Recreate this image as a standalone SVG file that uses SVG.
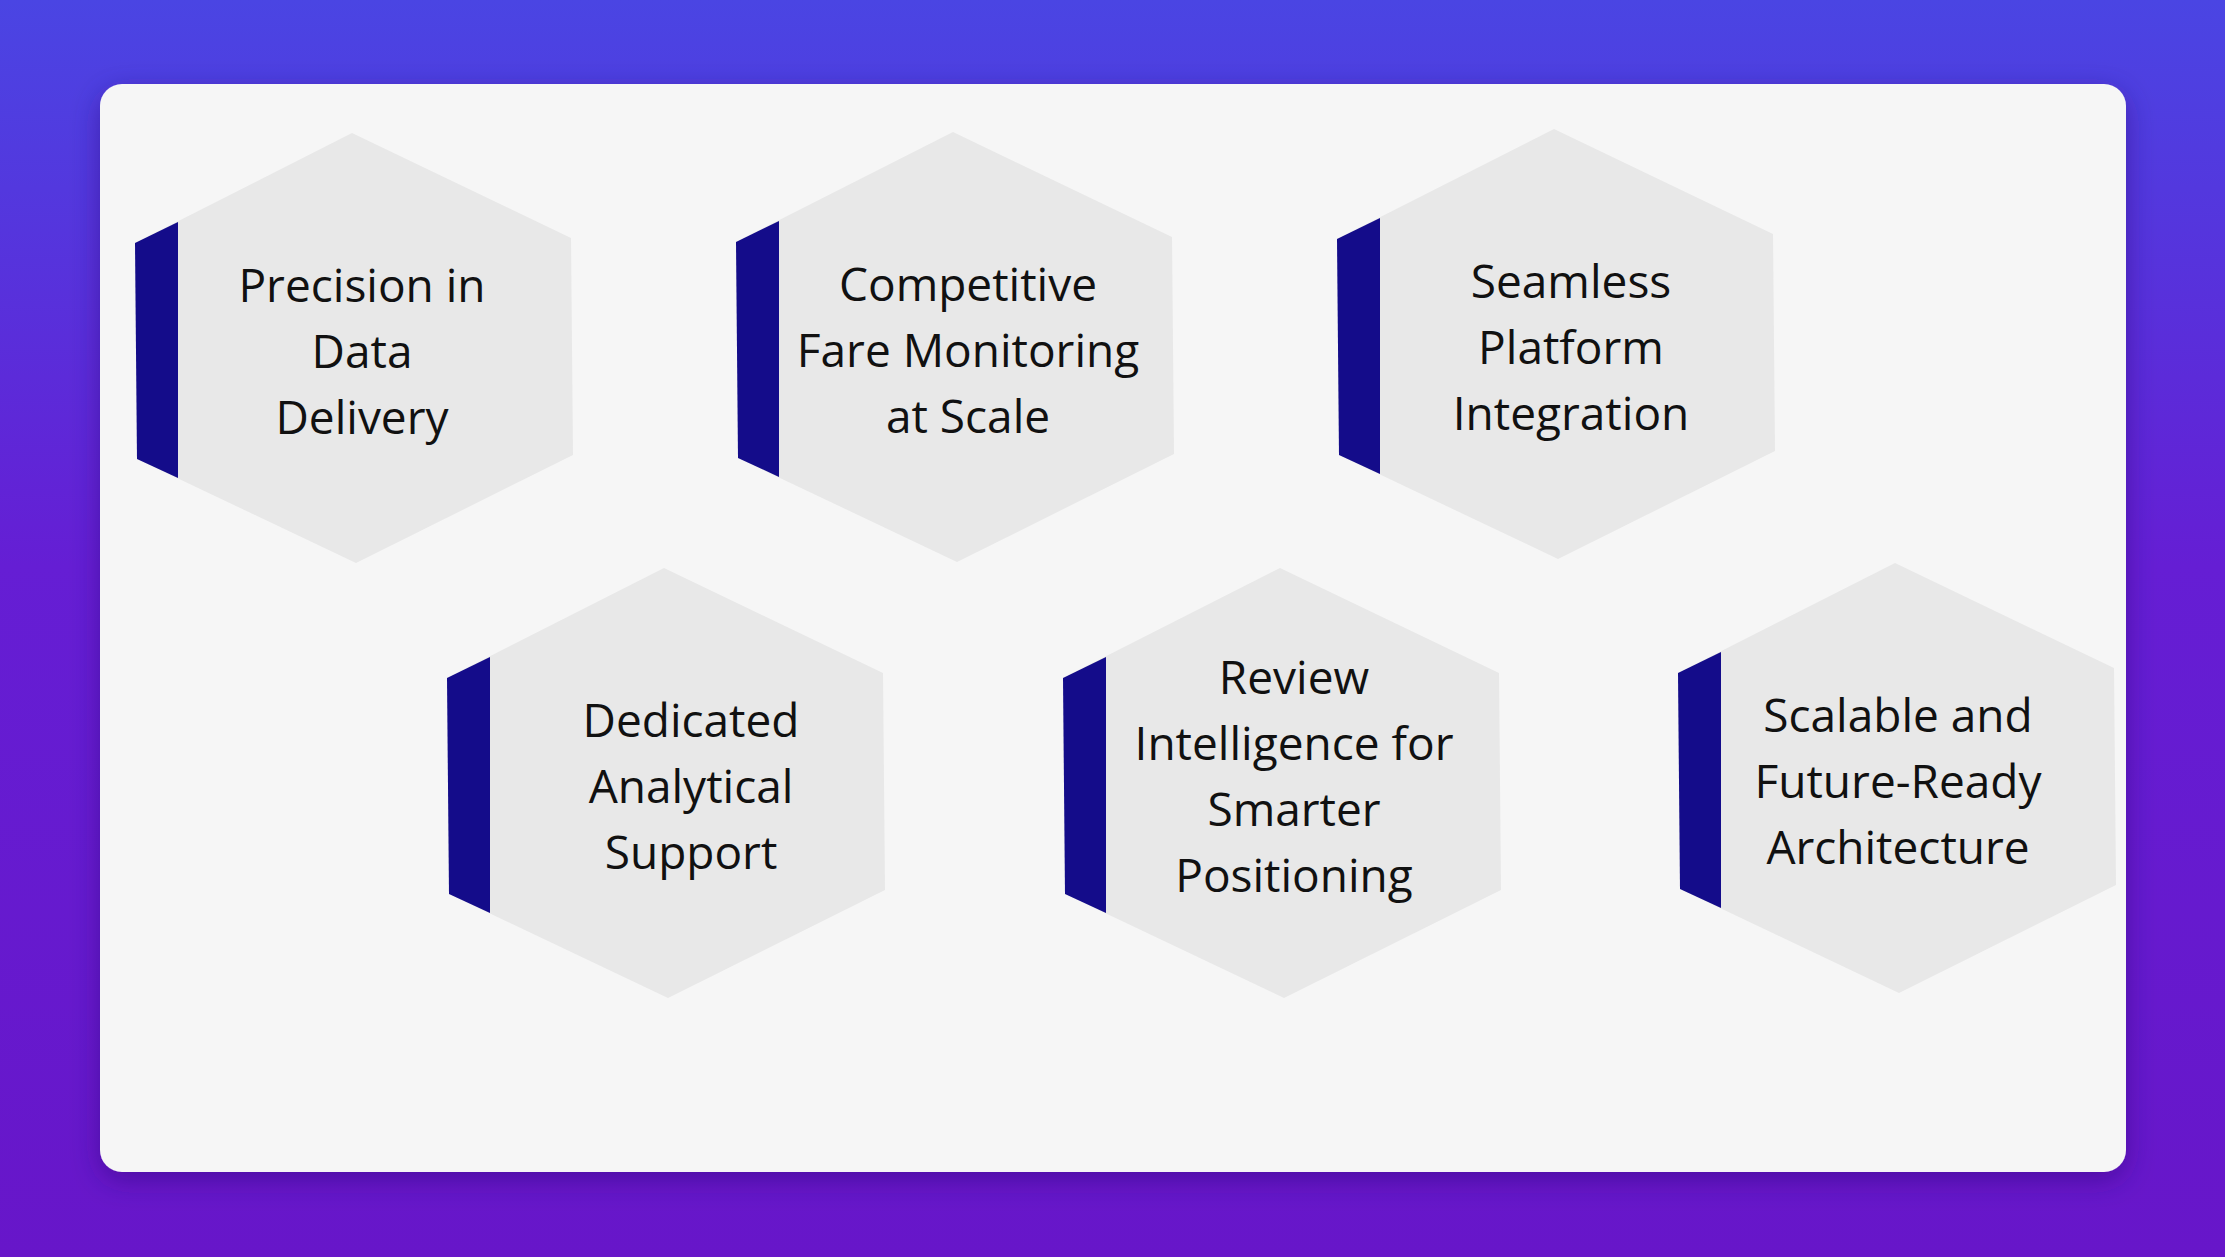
<svg xmlns="http://www.w3.org/2000/svg" width="2225" height="1257" viewBox="0 0 2225 1257">
<defs>
<linearGradient id="bg" x1="0" y1="0" x2="0" y2="1"><stop offset="0" stop-color="#4a45e3"/><stop offset="0.45" stop-color="#651ed4"/><stop offset="1" stop-color="#6716c9"/></linearGradient>
<filter id="sh" x="-5%" y="-5%" width="110%" height="115%"><feDropShadow dx="0" dy="8" stdDeviation="14" flood-color="#2a0a70" flood-opacity="0.45"/></filter>
<path id="hex" d="M0,0 L219,105 L221,322 L4,430 L-215,326 L-217,110 Z"/>
<path id="bar" d="M-217,110 L-174,89 L-174,345 L-215,326 Z"/>
</defs>
<style>
.hx{fill:#e8e8e8}.br{fill:#140c8a}
text{font-family:"Open Sans","Liberation Sans",sans-serif;font-size:46px;fill:#111;text-anchor:middle}
</style>
<rect width="2225" height="1257" fill="url(#bg)"/>
<rect x="100" y="84" width="2026" height="1088" rx="22" fill="#f6f6f6" filter="url(#sh)"/>
<g id="connectors"/>
<g id="n1" transform="translate(352,133)"><use href="#hex" class="hx"/><use href="#bar" class="br"/>
<text x="10" y="169">Precision in</text><text x="10" y="235">Data</text><text x="10" y="301">Delivery</text></g>
<g id="n2" transform="translate(953,132)"><use href="#hex" class="hx"/><use href="#bar" class="br"/>
<text x="15" y="169">Competitive</text><text x="15" y="235">Fare Monitoring</text><text x="15" y="301">at Scale</text></g>
<g id="n3" transform="translate(1554,129)"><use href="#hex" class="hx"/><use href="#bar" class="br"/>
<text x="17" y="169">Seamless</text><text x="17" y="235">Platform</text><text x="17" y="301">Integration</text></g>
<g id="n4" transform="translate(664,568)"><use href="#hex" class="hx"/><use href="#bar" class="br"/>
<text x="27" y="169">Dedicated</text><text x="27" y="235">Analytical</text><text x="27" y="301">Support</text></g>
<g id="n5" transform="translate(1280,568)"><use href="#hex" class="hx"/><use href="#bar" class="br"/>
<text x="14" y="126">Review</text><text x="14" y="192">Intelligence for</text><text x="14" y="258">Smarter</text><text x="14" y="324">Positioning</text></g>
<g id="n6" transform="translate(1895,563)"><use href="#hex" class="hx"/><use href="#bar" class="br"/>
<text x="3" y="169">Scalable and</text><text x="3" y="235">Future-Ready</text><text x="3" y="301">Architecture</text></g>
</svg>
